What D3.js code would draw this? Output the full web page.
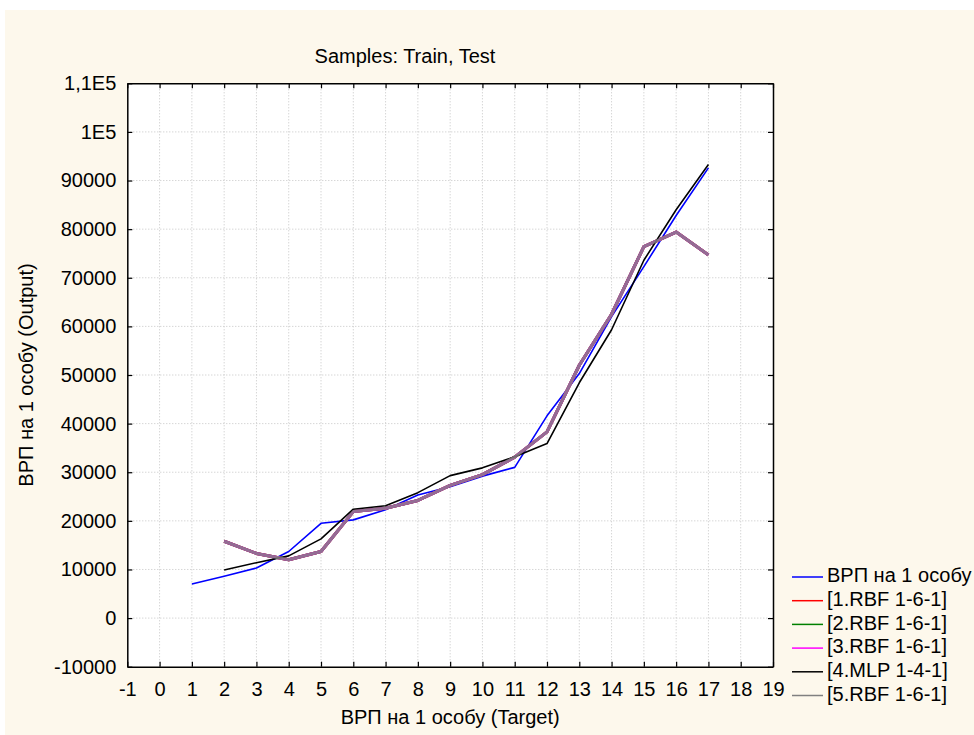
<!DOCTYPE html>
<html>
<head>
<meta charset="utf-8">
<script src="https://cdn.jsdelivr.net/npm/d3@7/dist/d3.min.js"></script>
<style>
  body { margin: 0; background: #ffffff; }
  svg text { font-family: "Liberation Sans", Arial, sans-serif; fill: #000; }
</style>
</head>
<body>
<svg id="graph"></svg>
<script>
// case numbers on the x axis
const targetCases = [1, 2, 3, 4, 5, 6, 7, 8, 9, 10, 11, 12, 13, 14, 15, 16, 17];
const modelCases = [2, 3, 4, 5, 6, 7, 8, 9, 10, 11, 12, 13, 14, 15, 16, 17];

// ВРП на 1 особу (target)
const targetValues = [7000, 8600, 10300, 13700, 19500, 20200, 22300, 25300, 27000,
  29200, 31000, 41600, 50300, 62000, 72300, 82800, 92600];

// network outputs
const rbf1Values = [15800, 13300, 12000, 13700, 21900, 22600, 24200, 27300, 29500,
  33100, 38300, 52000, 62500, 76400, 79400, 74700];
const rbf2Values = [15800, 13300, 12000, 13700, 21900, 22600, 24200, 27300, 29500,
  33100, 38300, 52000, 62500, 76400, 79400, 74700];
const rbf3Values = [15800, 13300, 12000, 13700, 21900, 22600, 24200, 27300, 29500,
  33100, 38300, 52000, 62500, 76400, 79400, 74700];
const mlp4Values = [9900, 11400, 12800, 16300, 22400, 23100, 25800, 29300, 30900,
  33200, 35900, 48400, 59300, 73600, 84000, 93300];
const rbf5Values = [15800, 13300, 12000, 13700, 21900, 22600, 24200, 27300, 29500,
  33100, 38300, 52000, 62500, 76400, 79400, 74700];

const seriesNames = ["ВРП на 1 особу", "[1.RBF 1-6-1]", "[2.RBF 1-6-1]",
  "[3.RBF 1-6-1]", "[4.MLP 1-4-1]", "[5.RBF 1-6-1]"];

// tick labels
const xTicks = [-1, 0, 1, 2, 3, 4, 5, 6, 7, 8, 9, 10, 11, 12, 13, 14, 15, 16, 17, 18, 19];
const yTicks = [-10000, 0, 10000, 20000, 30000, 40000, 50000, 60000, 70000, 80000,
  90000, 100000, 110000];
const yTickLabels = ["-10000", "0", "10000", "20000", "30000", "40000", "50000",
  "60000", "70000", "80000", "90000", "1E5", "1,1E5"];

const constants = {
  size: { width: 974, height: 735 },
  plot: { left: 127.3, right: 773, top: 83.3, bottom: 666.7 },
  font: 20,
  tick: 5,
  colors: {
    page: "#fdf8ec",
    grid: "#c4c4c4"
  },
  legend: { x1: 792, x2: 823, textX: 827, y0: 577, step: 23.7 }
};

const svg = d3.select("#graph")
  .attr("width", constants.size.width)
  .attr("height", constants.size.height);

svg.append("rect")
  .attr("x", 5).attr("y", 10)
  .attr("width", constants.size.width - 5)
  .attr("height", constants.size.height - 10)
  .attr("fill", constants.colors.page);

const p = constants.plot;

svg.append("rect")
  .attr("x", p.left).attr("y", p.top)
  .attr("width", p.right - p.left)
  .attr("height", p.bottom - p.top)
  .attr("fill", "#ffffff");

const x = d3.scaleLinear().domain([-1, 19]).range([p.left, p.right]);
const y = d3.scaleLinear().domain([-10000, 110000]).range([p.bottom, p.top]);

// grid
const grid = svg.append("g").attr("class", "grid")
  .attr("stroke", constants.colors.grid)
  .attr("stroke-width", 1)
  .attr("stroke-dasharray", "1,2");

grid.selectAll("line.v")
  .data(xTicks.slice(1, -1))
  .enter().append("line")
  .attr("class", "v")
  .attr("x1", d => x(d)).attr("x2", d => x(d))
  .attr("y1", p.top).attr("y2", p.bottom);

grid.selectAll("line.h")
  .data(yTicks.slice(1, -1))
  .enter().append("line")
  .attr("class", "h")
  .attr("x1", p.left).attr("x2", p.right)
  .attr("y1", d => y(d)).attr("y2", d => y(d));

// series
const series = [
  { name: seriesNames[0], cases: targetCases, values: targetValues, color: "#0000ff", width: 1.6, opacity: 1 },
  { name: seriesNames[1], cases: modelCases, values: rbf1Values, color: "#ff0000", width: 3, opacity: 1 },
  { name: seriesNames[2], cases: modelCases, values: rbf2Values, color: "#008000", width: 3, opacity: 1 },
  { name: seriesNames[3], cases: modelCases, values: rbf3Values, color: "#ff00ff", width: 3, opacity: 1 },
  { name: seriesNames[4], cases: modelCases, values: mlp4Values, color: "#000000", width: 1.6, opacity: 1 },
  { name: seriesNames[5], cases: modelCases, values: rbf5Values, color: "#808080", width: 3, opacity: 0.85 }
];

const line = d3.line()
  .x(d => x(d[0]))
  .y(d => y(d[1]));

svg.append("g").attr("class", "lines")
  .selectAll("path")
  .data(series)
  .enter().append("path")
  .attr("d", s => line(s.cases.map((c, i) => [c, s.values[i]])))
  .attr("fill", "none")
  .attr("stroke", s => s.color)
  .attr("stroke-width", s => s.width)
  .attr("stroke-opacity", s => s.opacity)
  .attr("stroke-linejoin", "round");

// axes (ticks point inward)
const styleAxis = g => {
  g.select(".domain").attr("stroke", "#000").attr("stroke-width", 1.5);
  g.selectAll(".tick line").attr("stroke", "#000").attr("stroke-width", 1.2);
  g.selectAll(".tick text")
    .attr("font-size", constants.font)
    .attr("font-family", "Liberation Sans, Arial, sans-serif");
};

svg.append("g")
  .attr("transform", "translate(0," + p.bottom + ")")
  .call(d3.axisBottom(x).tickValues(xTicks).tickFormat(d => String(d))
    .tickSizeInner(-constants.tick).tickSizeOuter(0).tickPadding(15))
  .call(styleAxis);

svg.append("g")
  .attr("transform", "translate(0," + p.top + ")")
  .call(d3.axisTop(x).tickValues(xTicks).tickFormat("")
    .tickSizeInner(-constants.tick).tickSizeOuter(0))
  .call(styleAxis);

svg.append("g")
  .attr("transform", "translate(" + p.left + ",0)")
  .call(d3.axisLeft(y).tickValues(yTicks).tickFormat((d, i) => yTickLabels[i])
    .tickSizeInner(-constants.tick).tickSizeOuter(0).tickPadding(11))
  .call(styleAxis);

svg.append("g")
  .attr("transform", "translate(" + p.right + ",0)")
  .call(d3.axisRight(y).tickValues(yTicks).tickFormat("")
    .tickSizeInner(-constants.tick).tickSizeOuter(0))
  .call(styleAxis);

// titles
svg.append("text")
  .attr("x", 405).attr("y", 58)
  .attr("text-anchor", "middle")
  .attr("dominant-baseline", "middle")
  .attr("font-size", constants.font)
  .text("Samples: Train, Test");

svg.append("text")
  .attr("x", (p.left + p.right) / 2).attr("y", 719)
  .attr("text-anchor", "middle")
  .attr("dominant-baseline", "middle")
  .attr("font-size", constants.font)
  .text("ВРП на 1 особу (Target)");

svg.append("text")
  .attr("transform", "translate(28," + (p.top + p.bottom) / 2 + ") rotate(-90)")
  .attr("text-anchor", "middle")
  .attr("dominant-baseline", "middle")
  .attr("font-size", constants.font)
  .text("ВРП на 1 особу (Output)");

// legend
const lg = constants.legend;
const legend = svg.append("g").attr("class", "legend")
  .selectAll("g")
  .data(series)
  .enter().append("g")
  .attr("transform", (d, i) => "translate(0," + (lg.y0 + i * lg.step) + ")");

legend.append("line")
  .attr("x1", lg.x1).attr("x2", lg.x2)
  .attr("stroke", d => d.color)
  .attr("stroke-width", 1.5);

legend.append("text")
  .attr("x", lg.textX)
  .attr("dominant-baseline", "middle")
  .attr("font-size", constants.font)
  .text(d => d.name);
</script>
</body>
</html>
